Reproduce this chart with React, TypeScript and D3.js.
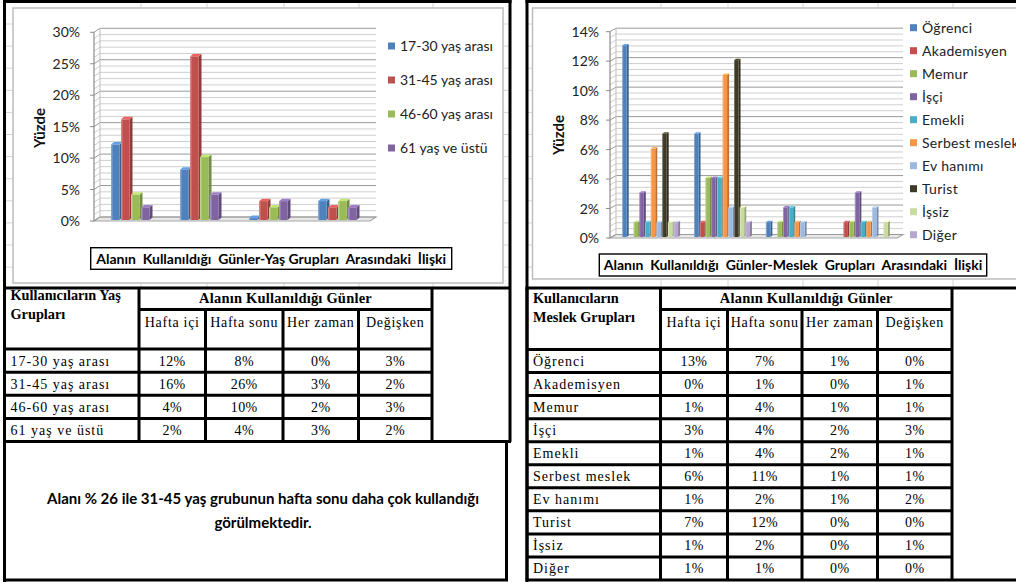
import { useEffect, useRef } from 'react';
import * as d3 from 'd3';

const DAYS = ['Hafta içi', 'Hafta sonu', 'Her zaman', 'Değişken'];

// age groups (values in %, per day category)
const AGE_GROUPS = ['17-30 yaş arası', '31-45 yaş arası', '46-60 yaş arası', '61 yaş ve üstü'];
const AGE_COLORS = ['#4F81BD', '#C0504D', '#9BBB59', '#8064A2'];
const AGE_17_30 = [12, 8, 0.3, 3];
const AGE_31_45 = [16, 26, 3, 2];
const AGE_46_60 = [4, 10, 2, 3];
const AGE_61_UP = [2, 4, 3, 2];
const AGE_VALUES = [AGE_17_30, AGE_31_45, AGE_46_60, AGE_61_UP];

// occupation groups
const JOBS = ['Öğrenci', 'Akademisyen', 'Memur', 'İşçi', 'Emekli', 'Serbest meslek', 'Ev hanımı', 'Turist', 'İşsiz', 'Diğer'];
const JOB_COLORS = ['#4F81BD', '#C0504D', '#9BBB59', '#8064A2', '#4BACC6', '#F79646', '#9DB9E0', '#3F3A26', '#C9DCA0', '#B6A6D0'];
const OGRENCI = [13, 7, 1, 0];
const AKADEMISYEN = [0, 1, 0, 1];
const MEMUR = [1, 4, 1, 1];
const ISCI = [3, 4, 2, 3];
const EMEKLI = [1, 4, 2, 1];
const SERBEST = [6, 11, 1, 1];
const EV_HANIMI = [1, 2, 1, 2];
const TURIST = [7, 12, 0, 0];
const ISSIZ = [1, 2, 0, 1];
const DIGER = [1, 1, 0, 0];
const JOB_VALUES = [OGRENCI, AKADEMISYEN, MEMUR, ISCI, EMEKLI, SERBEST, EV_HANIMI, TURIST, ISSIZ, DIGER];

const CHART_FONT = "Lato, 'Open Sans', sans-serif";
const TABLE_FONT = "'Liberation Serif', 'Times New Roman', serif";

function drawChart(svg: any, c: any) {
  const g = svg.append('g');
  const y = d3.scaleLinear().domain([0, c.yMax]).range([c.zero, c.top]);
  const x0 = d3.scaleBand().domain(DAYS).range([c.left, c.right]).paddingInner(c.padIn).paddingOuter(c.padOut);
  const x1 = d3.scaleBand().domain(c.series).range([0, x0.bandwidth()]);
  const wdx = c.wallDx, wdy = c.wallDy;

  // back wall + floor
  g.append('rect')
    .attr('x', c.left + wdx).attr('y', y(c.yMax) + wdy)
    .attr('width', c.right - c.left).attr('height', c.zero - y(c.yMax))
    .attr('fill', '#fff');
  g.append('path')
    .attr('d', `M${c.left},${c.zero} L${c.right},${c.zero} L${c.right + wdx},${c.zero + wdy} L${c.left + wdx},${c.zero + wdy} Z`)
    .attr('fill', '#E8E8E8').attr('stroke', '#A6A6A6').attr('stroke-width', 1.2);

  const minorStep = c.major / 5;
  d3.range(0, c.yMax + 1e-6, minorStep).forEach((v) => {
    const isMajor = Math.abs(v / c.major - Math.round(v / c.major)) < 1e-6;
    const col = isMajor ? '#9A9A9A' : '#CFCFCF';
    g.append('line')
      .attr('x1', c.left + wdx).attr('x2', c.right + wdx)
      .attr('y1', y(v) + wdy).attr('y2', y(v) + wdy)
      .attr('stroke', col).attr('stroke-width', 1);
    g.append('line')
      .attr('x1', c.left).attr('x2', c.left + wdx)
      .attr('y1', y(v)).attr('y2', y(v) + wdy)
      .attr('stroke', col).attr('stroke-width', 1);
  });
  g.append('line')
    .attr('x1', c.left + wdx).attr('x2', c.left + wdx)
    .attr('y1', y(0) + wdy).attr('y2', y(c.yMax) + wdy)
    .attr('stroke', '#BDBDBD');
  g.append('line')
    .attr('x1', c.left).attr('x2', c.left)
    .attr('y1', y(0)).attr('y2', y(c.yMax))
    .attr('stroke', '#8C8C8C').attr('stroke-width', 1.2);

  // ticks + labels
  d3.range(0, c.yMax + 1e-6, c.major).forEach((v) => {
    g.append('line')
      .attr('x1', c.left - 4).attr('x2', c.left)
      .attr('y1', y(v)).attr('y2', y(v))
      .attr('stroke', '#8C8C8C');
    g.append('text')
      .attr('x', c.labelRight).attr('y', y(v) + 5)
      .attr('text-anchor', 'end')
      .attr('font-family', CHART_FONT).attr('font-size', 14).attr('fill', '#222')
      .text(`${v}%`);
  });

  g.append('text')
    .attr('transform', `translate(${c.yTitleX},${c.yTitleY}) rotate(-90)`)
    .attr('text-anchor', 'middle')
    .attr('font-family', CHART_FONT).attr('font-size', 15).attr('font-weight', 700).attr('fill', '#111')
    .text('Yüzde');

  // bars
  const bdx = c.barDx, bdy = c.barDy;
  DAYS.forEach((day, ci) => {
    c.series.forEach((s: string, si: number) => {
      const v = c.values[si][ci];
      if (v <= 0) return;
      const col = c.colors[si];
      const bx = (x0(day) || 0) + (x1(s) || 0) + c.shiftX;
      const w = x1.bandwidth() - c.gap;
      const base = c.zero + c.shiftY;
      const by = y(v) + c.shiftY;
      g.append('path')
        .attr('d', `M${bx + w},${by} L${bx + w + bdx},${by + bdy} L${bx + w + bdx},${base + bdy} L${bx + w},${base} Z`)
        .attr('fill', d3.color(col)!.darker(0.8).toString());
      g.append('path')
        .attr('d', `M${bx},${by} L${bx + bdx},${by + bdy} L${bx + w + bdx},${by + bdy} L${bx + w},${by} Z`)
        .attr('fill', d3.color(col)!.brighter(0.6).toString());
      g.append('rect')
        .attr('x', bx).attr('y', by).attr('width', w).attr('height', base - by)
        .attr('fill', col);
      g.append('rect')
        .attr('x', bx).attr('y', by).attr('width', Math.max(1, w * 0.18)).attr('height', base - by)
        .attr('fill', '#fff').attr('opacity', 0.3);
    });
  });

  // legend
  c.series.forEach((s: string, i: number) => {
    const ly = c.legendY + i * c.legendStep;
    g.append('rect')
      .attr('x', c.legendX).attr('y', ly - 3.5).attr('width', 7).attr('height', 7)
      .attr('fill', c.colors[i]);
    g.append('text')
      .attr('x', c.legendX + 12).attr('y', ly + 5)
      .attr('font-family', CHART_FONT).attr('font-size', 14).attr('fill', '#222')
      .attr('letter-spacing', c.legendSpacing)
      .text(s);
  });

  // title box
  const tb = c.titleBox;
  g.append('rect')
    .attr('x', tb[0]).attr('y', tb[1]).attr('width', tb[2]).attr('height', tb[3])
    .attr('fill', '#fff').attr('stroke', '#000').attr('stroke-width', 1.4);
  g.append('text')
    .attr('x', tb[0] + tb[2] / 2).attr('y', tb[1] + tb[3] / 2 + 5)
    .attr('text-anchor', 'middle')
    .attr('font-family', CHART_FONT).attr('font-size', 14).attr('font-weight', 700).attr('fill', '#000')
    .style('white-space', 'pre')
    .text(c.title);
}

function drawTable(svg: any, t: any) {
  const g = svg.append('g').attr('font-family', TABLE_FONT).attr('fill', '#000');
  const cols = t.cols;
  const rows = d3.scaleBand().domain(t.rowLabels).range([t.bodyTop, t.bodyBottom]);
  const lw = 3;
  const line = (x1: number, y1: number, x2: number, y2: number) =>
    g.append('line').attr('x1', x1).attr('y1', y1).attr('x2', x2).attr('y2', y2)
      .attr('stroke', '#000').attr('stroke-width', lw);

  // horizontal lines
  line(cols[0] - 1.5, t.top, cols[6] + 1.5, t.top);
  line(cols[1], t.subTop, cols[5], t.subTop);
  line(cols[0], t.bodyTop, cols[5], t.bodyTop);
  t.rowLabels.forEach((r: string, i: number) => {
    if (i > 0) line(cols[0], rows(r) || 0, cols[5], rows(r) || 0);
  });
  line(cols[0] - 1.5, t.bodyBottom, cols[6] + 1.5, t.bodyBottom);
  // vertical lines
  line(cols[0], t.top, cols[0], t.bodyBottom);
  line(cols[1], t.top, cols[1], t.bodyBottom);
  [2, 3, 4].forEach((k) => line(cols[k], t.subTop, cols[k], t.bodyBottom));
  line(cols[5], t.top, cols[5], t.bodyBottom);

  // header texts
  t.headLines.forEach((h: string, i: number) => {
    g.append('text').attr('x', cols[0] + 6).attr('y', t.headY + i * 19)
      .attr('font-size', 14.3).attr('font-weight', 700).text(h);
  });
  g.append('text').attr('x', (cols[1] + cols[5]) / 2).attr('y', t.top + 15)
    .attr('text-anchor', 'middle').attr('font-size', 14.5).attr('font-weight', 700)
    .attr('letter-spacing', 0.2)
    .text('Alanın Kullanıldığı Günler');
  DAYS.forEach((d, k) => {
    g.append('text').attr('x', (cols[k + 1] + cols[k + 2]) / 2).attr('y', t.subTop + 17)
      .attr('text-anchor', 'middle').attr('font-size', 14).attr('letter-spacing', 0.7).text(d);
  });

  t.rowLabels.forEach((r: string, i: number) => {
    const yc = (rows(r) || 0) + rows.bandwidth() / 2 + 5;
    g.append('text').attr('x', cols[0] + 6).attr('y', yc)
      .attr('font-size', 14).attr('font-weight', 400).attr('letter-spacing', 1).text(r);
    t.values[i].forEach((v: number, k: number) => {
      g.append('text').attr('x', (cols[k + 1] + cols[k + 2]) / 2).attr('y', yc)
        .attr('text-anchor', 'middle').attr('font-size', 14).attr('letter-spacing', 0.4)
        .text(`${Math.round(v)}%`);
    });
  });
}

export default function App() {
  const svgRef = useRef<SVGSVGElement>(null);

  useEffect(() => {
    const el = svgRef.current;
    if (!el) return;
    const svg = d3.select(el);
    svg.selectAll('*').remove();

    svg.append('rect').attr('width', 1016).attr('height', 582).attr('fill', '#fff');

    // faint sheet gridlines behind the panels
    const sheet = svg.append('g').attr('stroke', '#D4D4D4').attr('stroke-width', 1);
    const sheetRows = d3.range(24, 280, 22.1);
    [[5, 509, [141, 207, 284, 359, 433]], [528, 1016, [661, 728, 803, 878, 953]]].forEach(([a, b, vx]: any) => {
      sheetRows.forEach((yy) => sheet.append('line').attr('x1', a).attr('x2', b).attr('y1', yy).attr('y2', yy));
      vx.forEach((xx: number) => sheet.append('line').attr('x1', xx).attr('x2', xx).attr('y1', 0).attr('y2', 288));
    });

    // chart areas
    svg.append('rect').attr('x', 13).attr('y', 8).attr('width', 490).attr('height', 275)
      .attr('fill', '#fff').attr('stroke', '#BDBDBD').attr('stroke-width', 1.5);
    svg.append('rect').attr('x', 532.5).attr('y', 8).attr('width', 500).attr('height', 271)
      .attr('fill', '#fff').attr('stroke', '#BDBDBD').attr('stroke-width', 1.5);

    drawChart(svg, {
      series: AGE_GROUPS, colors: AGE_COLORS, values: AGE_VALUES,
      yMax: 30, major: 5, left: 94, right: 370, zero: 221, top: 32.3,
      wallDx: 6, wallDy: -4, barDx: 3, barDy: -2.5, padIn: 0.42, padOut: 0.21,
      shiftX: 2.5, shiftY: -1, gap: 1.5, labelRight: 80,
      yTitleX: 45, yTitleY: 128,
      legendX: 388, legendY: 46, legendStep: 34, legendSpacing: 0,
      titleBox: [90.7, 247.7, 361, 21.6],
      title: 'Alanın  Kullanıldığı  Günler-Yaş Grupları  Arasındaki  İlişki',
    });
    drawChart(svg, {
      series: JOBS, colors: JOB_COLORS, values: JOB_VALUES,
      yMax: 14, major: 2, left: 610, right: 897, zero: 238, top: 31.7,
      wallDx: 6, wallDy: -3.5, barDx: 2, barDy: -1.5, padIn: 0.205, padOut: 0.1,
      shiftX: 5, shiftY: -1, gap: 1.2, labelRight: 599,
      yTitleX: 564, yTitleY: 135,
      legendX: 910, legendY: 27.7, legendStep: 23, legendSpacing: 0.3,
      titleBox: [599.3, 254, 387.4, 22],
      title: 'Alanın  Kullanıldığı  Günler-Meslek  Grupları  Arasındaki  İlişki',
    });

    drawTable(svg, {
      cols: [4.5, 139, 205.5, 283, 358.5, 432, 509.5],
      top: 288, subTop: 309.5, bodyTop: 349, bodyBottom: 441.5,
      rowLabels: AGE_GROUPS, values: AGE_VALUES,
      headLines: ['Kullanıcıların Yaş', 'Grupları'], headY: 300,
    });
    drawTable(svg, {
      cols: [527, 660.5, 727.5, 802, 877.5, 952, 1017],
      top: 288, subTop: 309.5, bodyTop: 349.5, bodyBottom: 580,
      rowLabels: JOBS, values: JOB_VALUES,
      headLines: ['Kullanıcıların', 'Meslek Grupları'], headY: 303,
    });

    // panel borders
    const border = svg.append('g').attr('stroke', '#000').attr('stroke-width', 3);
    border.append('line').attr('x1', 3).attr('x2', 511.5).attr('y1', 1.5).attr('y2', 1.5);
    border.append('line').attr('x1', 4.5).attr('x2', 4.5).attr('y1', 0).attr('y2', 582);
    border.append('line').attr('x1', 510).attr('x2', 510).attr('y1', 0).attr('y2', 442);
    border.append('line').attr('x1', 525.5).attr('x2', 1016).attr('y1', 1.5).attr('y2', 1.5);
    border.append('line').attr('x1', 527).attr('x2', 527).attr('y1', 0).attr('y2', 582);

    // note box
    border.append('rect').attr('x', 4.5).attr('y', 441.5).attr('width', 502).attr('height', 138.5)
      .attr('fill', 'none');
    const note = svg.append('g').attr('font-family', CHART_FONT).attr('font-size', 15)
      .attr('font-weight', 700).attr('text-anchor', 'middle').attr('fill', '#000');
    note.append('text').attr('x', 263).attr('y', 504).text('Alanı % 26 ile 31-45 yaş grubunun hafta sonu daha çok kullandığı');
    note.append('text').attr('x', 263).attr('y', 528).text('görülmektedir.');
  }, []);

  return (
    <svg
      ref={svgRef}
      width={1016}
      height={582}
      style={{ position: 'absolute', left: 0, top: 0, display: 'block' }}
    />
  );
}
